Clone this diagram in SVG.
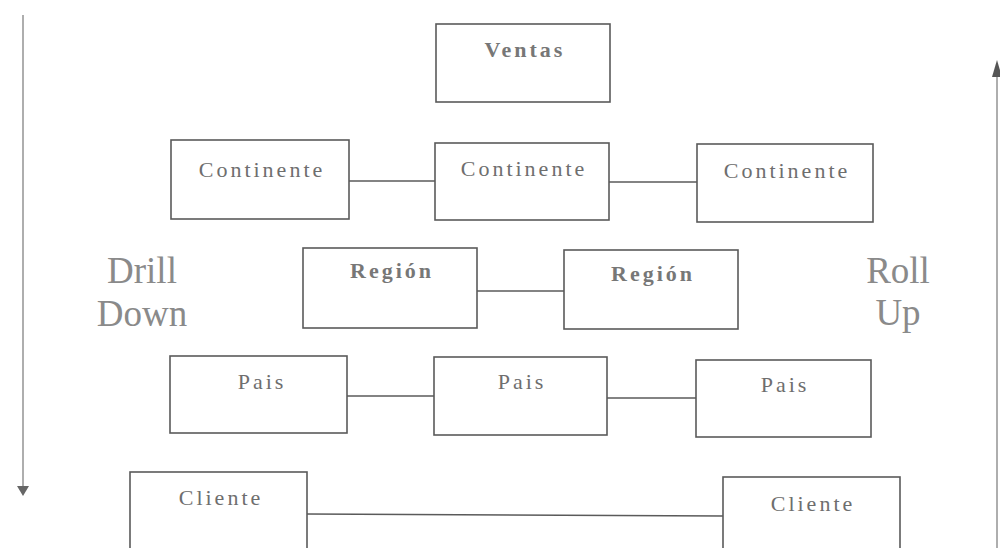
<svg xmlns="http://www.w3.org/2000/svg" width="1000" height="548" viewBox="0 0 1000 548">
  <defs>
    <style>
      .box { fill: #ffffff; stroke: #5a5a5a; stroke-width: 1.6; }
      .lbl { font-family: "Liberation Serif", "DejaVu Serif", serif; font-size: 22px; fill: #6e6e6e; letter-spacing: 3px; text-anchor: middle; }
      .bold { font-weight: bold; fill: #777777; }
      .big { font-family: "Liberation Serif", "DejaVu Serif", serif; font-size: 37px; fill: #8a8a8a; text-anchor: middle; }
      .link { stroke: #5a5a5a; stroke-width: 1.6; fill: none; }
      .axis { stroke: #8c8c8c; stroke-width: 1.4; fill: none; }
    </style>
  </defs>
  <rect width="1000" height="548" fill="#ffffff"/>

  <!-- connectors -->
  <g id="connectors">
    <line class="link" x1="349" y1="181" x2="435" y2="181"/>
    <line class="link" x1="609" y1="182" x2="697" y2="182"/>
    <line class="link" x1="477" y1="291" x2="564" y2="291"/>
    <line class="link" x1="347" y1="396" x2="434" y2="396"/>
    <line class="link" x1="607" y1="398" x2="696" y2="398"/>
    <line class="link" x1="307" y1="514" x2="723" y2="516"/>
    <!-- drill-down axis -->
    <line class="axis" x1="23" y1="15" x2="23" y2="488"/>
    <path d="M17,486 L29,486 L23,496 Z" fill="#666666"/>
    <!-- roll-up axis -->
    <line class="axis" x1="997" y1="548" x2="997" y2="72"/>
    <path d="M992,77 L1002,77 L997,60 Z" fill="#555555"/>
  </g>

  <g id="ventas">
    <rect class="box" x="436" y="24" width="174" height="78"/>
    <text class="lbl bold" x="525" y="57">Ventas</text>
  </g>

  <g id="continente-1">
    <rect class="box" x="171" y="140" width="178" height="79"/>
    <text class="lbl" x="262" y="177">Continente</text>
  </g>
  <g id="continente-2">
    <rect class="box" x="435" y="143" width="174" height="77"/>
    <text class="lbl" x="524" y="176">Continente</text>
  </g>
  <g id="continente-3">
    <rect class="box" x="697" y="144" width="176" height="78"/>
    <text class="lbl" x="787" y="178">Continente</text>
  </g>

  <g id="region-1">
    <rect class="box" x="303" y="248" width="174" height="80"/>
    <text class="lbl bold" x="392" y="278">Región</text>
  </g>
  <g id="region-2">
    <rect class="box" x="564" y="250" width="174" height="79"/>
    <text class="lbl bold" x="653" y="281">Región</text>
  </g>

  <g id="pais-1">
    <rect class="box" x="170" y="356" width="177" height="77"/>
    <text class="lbl" x="262" y="389">Pais</text>
  </g>
  <g id="pais-2">
    <rect class="box" x="434" y="357" width="173" height="78"/>
    <text class="lbl" x="522" y="389">Pais</text>
  </g>
  <g id="pais-3">
    <rect class="box" x="696" y="360" width="175" height="77"/>
    <text class="lbl" x="785" y="392">Pais</text>
  </g>

  <g id="cliente-1">
    <rect class="box" x="130" y="472" width="177" height="80"/>
    <text class="lbl" x="221" y="505">Cliente</text>
  </g>
  <g id="cliente-2">
    <rect class="box" x="723" y="477" width="177" height="75"/>
    <text class="lbl" x="813" y="511">Cliente</text>
  </g>

  <g id="drill-down">
    <text class="big" x="142" y="283">Drill</text>
    <text class="big" x="142" y="326">Down</text>
  </g>
  <g id="roll-up">
    <text class="big" x="898" y="283">Roll</text>
    <text class="big" x="898" y="325">Up</text>
  </g>
</svg>
